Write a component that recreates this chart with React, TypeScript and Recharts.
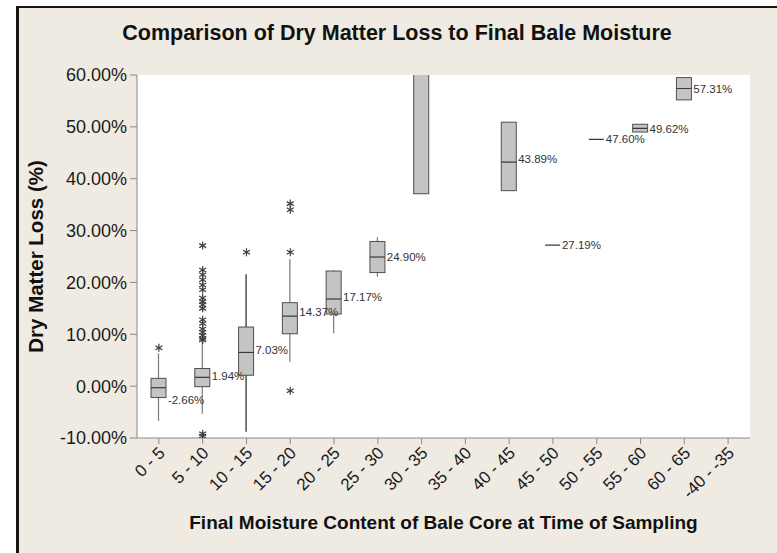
import { ComposedChart, Bar, Scatter, XAxis, YAxis, CartesianGrid } from 'recharts'

const categories = [
  '0 - 5', '5 - 10', '10 - 15', '15 - 20', '20 - 25', '25 - 30', '30 - 35',
  '35 - 40', '40 - 45', '45 - 50', '50 - 55', '55 - 60', '60 - 65', '-40 - -35',
]

// box statistics (% dry matter loss), null where a class has no box
const q1 = [-2.2, -0.1, 2.1, 10.1, 13.9, 21.9, 37.1, null, 37.7, null, null, 49.0, 55.2, null]
const q3 = [1.5, 3.4, 11.4, 16.1, 22.2, 27.9, 80.0, null, 50.9, null, null, 50.5, 59.5, null]
const medians = [-0.3, 1.7, 6.5, 13.5, 16.8, 24.9, 64.0, null, 43.2, 27.19, 47.6, 49.7, 57.4, null]
const whiskerLow = [-6.7, -5.3, -8.8, 4.7, 10.2, 21.1, null, null, null, null, null, null, null, null]
const whiskerHigh = [6.3, 8.9, 21.6, 24.5, 22.4, 28.7, null, null, null, null, null, null, null, null]
const means = [-2.66, 1.94, 7.03, 14.37, 17.17, 24.9, null, null, 43.89, 27.19, 47.6, 49.62, 57.31, null]

// outliers (asterisks)
const outlierCat = [
  '0 - 5',
  '5 - 10', '5 - 10', '5 - 10', '5 - 10', '5 - 10', '5 - 10', '5 - 10', '5 - 10', '5 - 10',
  '5 - 10', '5 - 10', '5 - 10', '5 - 10', '5 - 10', '5 - 10', '5 - 10', '5 - 10', '5 - 10', '5 - 10',
  '10 - 15',
  '15 - 20', '15 - 20', '15 - 20', '15 - 20',
]
const outlierValue = [
  7.4,
  27.1, 22.4, 21.5, 20.5, 19.5, 18.6, 17.0, 16.3, 15.7,
  15.0, 12.8, 12.1, 11.0, 10.4, 9.8, 9.2, 8.9, -9.2, -9.6,
  25.8,
  35.2, 34.0, 25.8, -0.9,
]

const yTicks = [-10, 0, 10, 20, 30, 40, 50, 60]

const rows = categories.map((cat, i) => ({
  cat,
  box: q1[i] != null ? [q1[i], q3[i]] : null,
  med: medians[i] != null ? [medians[i], medians[i]] : null,
  whisker: whiskerLow[i] != null ? [whiskerLow[i], whiskerHigh[i]] : null,
}))

const outlierPoints = outlierCat.map((c, i) => ({ idx: categories.indexOf(c), v: outlierValue[i] }))
const meanPoints = categories
  .map((c, i) => ({ idx: i, v: means[i] }))
  .filter((p) => p.v != null)

const FONT = '"Liberation Sans", Arial, sans-serif'

const BoxShape = (props: any) => {
  const { x, y, width, height } = props
  if (x == null || y == null) return null
  const top = Math.min(y, y + height)
  return (
    <rect x={x} y={top} width={width} height={Math.abs(height)} fill="#c4c4c4" stroke="#4f4f4f" strokeWidth={1} />
  )
}

const MedianShape = (props: any) => {
  const { x, y, width } = props
  if (x == null || y == null) return null
  return <line x1={x} x2={x + width} y1={y} y2={y} stroke="#3a3a3a" strokeWidth={1.2} />
}

const WhiskerShape = (props: any) => {
  const { x, y, width, height, payload } = props
  if (x == null || y == null) return null
  const cx = x + width / 2
  // the 10 - 15 whisker is drawn darker in the original
  const color = payload && payload.cat === '10 - 15' ? '#222' : '#7a7a7a'
  return <line x1={cx} x2={cx} y1={y} y2={y + height} stroke={color} strokeWidth={1.2} />
}

const Asterisk = (props: any) => {
  const { cx, cy } = props
  if (cx == null || cy == null) return null
  const r = 4
  const d = r * 0.87
  return (
    <g stroke="#3d3d3d" strokeWidth={1.2}>
      <line x1={cx} x2={cx} y1={cy - r} y2={cy + r} />
      <line x1={cx - d} x2={cx + d} y1={cy - r / 2} y2={cy + r / 2} />
      <line x1={cx - d} x2={cx + d} y1={cy + r / 2} y2={cy - r / 2} />
    </g>
  )
}

const MeanLabel = (props: any) => {
  const { cx, cy, payload } = props
  if (cx == null || cy == null) return null
  return (
    <text x={cx + 9} y={cy} dy="0.35em" fontSize={11.5} fill="#333" fontFamily={FONT}>
      {payload.v.toFixed(2) + '%'}
    </text>
  )
}

const XTick = (props: any) => {
  const { x, y, payload } = props
  return (
    <g transform={`translate(${x + 7},${y + 10})`}>
      <text x={0} y={0} textAnchor="end" transform="rotate(-45)" fontSize={17} fill="#1a1a1a" fontFamily={FONT}>
        {payload.value}
      </text>
    </g>
  )
}

export default function App() {
  return (
    <div style={{ position: 'absolute', left: 0, top: 0, width: 777, height: 553, background: '#fff', overflow: 'hidden' }}>
      <div
        style={{
          position: 'absolute', left: 16, top: 6, width: 761, height: 547,
          background: '#efebe3', borderLeft: '3px solid #151515', borderTop: '2px solid #151515',
        }}
      />
      <div
        style={{
          position: 'absolute', left: 17, top: 21, width: 760, textAlign: 'center',
          fontFamily: FONT, fontWeight: 'bold', fontSize: 21.5, color: '#111',
        }}
      >
        Comparison of Dry Matter Loss to Final Bale Moisture
      </div>
      <div style={{ position: 'absolute', left: 0, top: 0 }}>
        <ComposedChart width={777} height={553} data={rows} margin={{ top: 75, right: 27, bottom: 0, left: 0 }}>
          <CartesianGrid horizontal={false} vertical={false} fill="#fff" />
          <XAxis
            xAxisId="box"
            dataKey="cat"
            type="category"
            height={115}
            interval={0}
            tick={<XTick />}
            tickSize={6}
            tickMargin={0}
            stroke="#888"
            label={{ value: 'Final Moisture Content of Bale Core at Time of Sampling', position: 'insideBottom', offset: 24, style: { fontFamily: FONT, fontWeight: 'bold', fontSize: 19, fill: '#111' } }}
          />
          <XAxis xAxisId="med" dataKey="cat" type="category" hide />
          <XAxis xAxisId="whisk" dataKey="cat" type="category" hide />
          <XAxis xAxisId="pts" dataKey="idx" type="number" domain={[-0.5, 13.5]} hide />
          <XAxis xAxisId="top" dataKey="cat" orientation="top" height={0} tick={false} tickLine={false} stroke="#888" />
          <YAxis
            domain={[-10, 60]}
            ticks={yTicks}
            allowDataOverflow
            width={137}
            tickSize={7}
            tickMargin={3}
            stroke="#888"
            tick={{ fontSize: 18, fill: '#1a1a1a', fontFamily: FONT }}
            tickFormatter={(v: number) => v.toFixed(2) + '%'}
            label={{ value: 'Dry Matter Loss (%)', angle: -90, position: 'insideLeft', offset: 36, style: { textAnchor: 'middle', fontFamily: FONT, fontWeight: 'bold', fontSize: 20.5, fill: '#111' } }}
          />
          <YAxis yAxisId="r" orientation="right" width={0} domain={[0, 1]} tick={false} tickLine={false} stroke="#888" />
          <Bar xAxisId="whisk" dataKey="whisker" barSize={15} shape={<WhiskerShape />} isAnimationActive={false} />
          <Bar xAxisId="box" dataKey="box" barSize={15} shape={<BoxShape />} isAnimationActive={false} />
          <Bar xAxisId="med" dataKey="med" barSize={15} shape={<MedianShape />} isAnimationActive={false} />
          <Scatter xAxisId="pts" data={outlierPoints} dataKey="v" shape={<Asterisk />} isAnimationActive={false} />
          <Scatter xAxisId="pts" data={meanPoints} dataKey="v" shape={<MeanLabel />} isAnimationActive={false} />
        </ComposedChart>
      </div>
    </div>
  )
}
